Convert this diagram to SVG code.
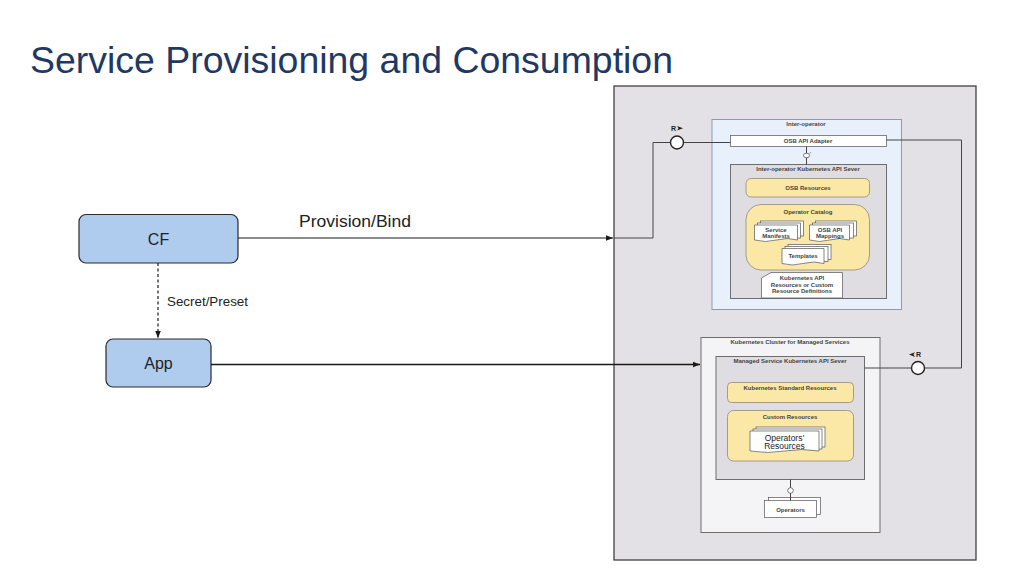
<svg xmlns="http://www.w3.org/2000/svg" width="1024" height="576" viewBox="0 0 1024 576">
<defs>
<style>
.t{font-family:"Liberation Sans",Arial,sans-serif;fill:#222;}
.s{font-size:6px;font-weight:bold;text-anchor:middle;fill:#444;}
.box{fill:#afcbee;stroke:#2b2b2b;stroke-width:1.2;}
.srv{fill:#dfdde1;stroke:#6d6d6d;stroke-width:1;}
.yel{fill:#fbe8a6;stroke:#8f8a7a;stroke-width:0.8;}
.doc{fill:#ffffff;stroke:#555;stroke-width:0.7;}
.ln{fill:none;stroke:#444;stroke-width:1;}
.cn{fill:none;stroke:#1a1a1a;stroke-width:1.2;}
</style>
<marker id="ah" viewBox="0 0 10 10" refX="10" refY="5" markerWidth="7" markerHeight="7" orient="auto" markerUnits="userSpaceOnUse">
<path d="M0,1 L10,5 L0,9 z" fill="#1a1a1a"/>
</marker>
</defs>
<rect width="1024" height="576" fill="#ffffff"/>
<text class="t" x="30" y="73" font-size="36" style="fill:#1f3864" textLength="643" lengthAdjust="spacingAndGlyphs">Service Provisioning and Consumption</text>

<g id="panel">
<rect x="614" y="86" width="362" height="474" fill="#e3e1e5" stroke="#333" stroke-width="1.2"/>
</g>

<g id="inter-operator">
<rect x="712" y="119.5" width="189.5" height="190" fill="#e8f1fb" stroke="#8c9bab" stroke-width="1"/>
<text class="t s" x="806" y="126">Inter-operator</text>
</g>
<g id="osb-adapter">
<rect x="730.5" y="135.5" width="156" height="11" fill="#fff" stroke="#666" stroke-width="0.8"/>
<text class="t s" x="808" y="143.2">OSB API Adapter</text>
</g>
<g id="inter-api-server">
<rect class="srv" x="730.5" y="164.5" width="156" height="134"/>
<text class="t s" x="808" y="170.8">Inter-operator Kubernetes API Sever</text>
</g>
<g id="osb-resources">
<rect class="yel" x="746" y="178.5" width="123.5" height="18.5" rx="5"/>
<text class="t s" x="808" y="189.8">OSB Resources</text>
</g>
<g id="operator-catalog">
<rect class="yel" x="746" y="204.5" width="123.5" height="65.5" rx="15"/>
<text class="t s" x="808" y="213.8">Operator Catalog</text>
</g>
<g id="service-manifests">
<rect class="doc" x="760.5" y="221" width="43" height="15"/>
<rect class="doc" x="757.5" y="223" width="43" height="15"/>
<path class="doc" d="M754.5,225 h43 v15 q-10,-3 -21,0 t-22,0 z"/>
<text class="t s" x="776" y="231.5">Service</text>
<text class="t s" x="776" y="237.5">Manifests</text>
</g>
<g id="osb-api-mappings">
<rect class="doc" x="815.5" y="221" width="41" height="15"/>
<rect class="doc" x="812.5" y="223" width="41" height="15"/>
<path class="doc" d="M809.5,225 h40 v15 q-10,-3 -20,0 t-20,0 z"/>
<text class="t s" x="830" y="231.5">OSB API</text>
<text class="t s" x="830" y="237.5">Mappings</text>
</g>
<g id="templates">
<rect class="doc" x="788" y="244.5" width="43" height="15"/>
<rect class="doc" x="785" y="246.5" width="43" height="15"/>
<path class="doc" d="M782,248.5 h42 v15 q-10,-3 -21,0 t-21,0 z"/>
<text class="t s" x="803" y="258">Templates</text>
</g>
<g id="k8s-api-resources">
<path class="doc" d="M771,272.5 H842.5 V298 H761.5 V278 z"/>
<text class="t s" x="802" y="280.2">Kubernetes API</text>
<text class="t s" x="802" y="286.7">Resources or Custom</text>
<text class="t s" x="802" y="293.2">Resource Definitions</text>
</g>

<g id="managed-cluster">
<rect x="701" y="337.5" width="179" height="195" fill="#f4f4f6" stroke="#6d6d6d" stroke-width="1"/>
<text class="t s" x="790" y="344.3">Kubernetes Cluster for Managed Services</text>
</g>
<g id="managed-api-server">
<rect class="srv" x="716" y="356.5" width="148.5" height="123"/>
<text class="t s" x="790" y="363.3">Managed Service Kubernetes API Sever</text>
</g>
<g id="k8s-standard-resources">
<rect class="yel" x="727.5" y="382.5" width="126" height="20" rx="4"/>
<text class="t s" x="790" y="390.3">Kubernetes Standard Resources</text>
</g>
<g id="custom-resources">
<rect class="yel" x="727.5" y="410.5" width="126" height="50.5" rx="6"/>
<text class="t s" x="790" y="419.3">Custom Resources</text>
</g>
<g id="operators-resources">
<rect class="doc" x="756" y="427" width="69" height="20"/>
<rect class="doc" x="753" y="429" width="69" height="20"/>
<path class="doc" d="M750,431 h69 v20 q-17,-3 -34,0 t-35,0 z"/>
<text class="t" x="784.5" y="440.5" font-size="8.5" text-anchor="middle" fill="#333">Operators’</text>
<text class="t" x="784.5" y="449" font-size="8.5" text-anchor="middle" fill="#333">Resources</text>
</g>
<g id="operators">
<rect class="doc" x="768.5" y="497.5" width="52" height="17"/>
<rect class="doc" x="764.5" y="500.5" width="52" height="17"/>
<text class="t s" x="790.5" y="511.5">Operators</text>
</g>

<g id="cf">
<rect class="box" x="79" y="214.5" width="159" height="48.5" rx="7"/>
<text class="t" x="158.5" y="245" font-size="16" text-anchor="middle">CF</text>
</g>
<g id="app">
<rect class="box" x="106" y="339" width="105" height="48" rx="7"/>
<text class="t" x="158.5" y="369" font-size="16" text-anchor="middle">App</text>
</g>

<g id="connectors">
<line class="cn" x1="238" y1="238" x2="613" y2="238" marker-end="url(#ah)"/>
<text class="t" x="299" y="227" font-size="16" textLength="112" lengthAdjust="spacingAndGlyphs">Provision/Bind</text>
<line class="cn" x1="158" y1="263" x2="158" y2="338" stroke-dasharray="3,2.5" marker-end="url(#ah)"/>
<text class="t" x="167" y="306" font-size="12.5" textLength="81" lengthAdjust="spacingAndGlyphs">Secret/Preset</text>
<line x1="211" y1="364.5" x2="700" y2="364.5" stroke="#1a1a1a" stroke-width="1.6" marker-end="url(#ah)"/>
<polyline class="ln" points="614,238 653,238 653,142.5 670.5,142.5"/>
<circle cx="677" cy="142.5" r="6.5" fill="#fff" stroke="#222" stroke-width="1.4"/>
<line class="ln" x1="683.5" y1="142.5" x2="730.5" y2="142.5"/>
<text class="t" x="671" y="131" font-size="7" font-weight="bold">R</text>
<path d="M677,126 L683,128.3 L677,130.6 L678.5,128.3 z" fill="#222"/>
<polyline class="ln" points="886.5,140 961.5,140 961.5,368 924.5,368"/>
<circle cx="918" cy="368" r="6.5" fill="#fff" stroke="#222" stroke-width="1.4"/>
<line class="ln" x1="864.5" y1="368" x2="911.5" y2="368"/>
<text class="t" x="916" y="357" font-size="7" font-weight="bold">R</text>
<path d="M915,352.3 L909,354.6 L915,356.9 L913.5,354.6 z" fill="#222"/>
<line class="ln" x1="806.5" y1="146.5" x2="806.5" y2="164.5"/>
<ellipse cx="806.5" cy="155.5" rx="3" ry="2.3" fill="#fff" stroke="#444" stroke-width="0.7"/>
<path d="M809.5,153.5 l1.6,-1.2" stroke="#444" stroke-width="0.6"/>
<line class="ln" x1="790.5" y1="479.5" x2="790.5" y2="500.5"/>
<circle cx="790.5" cy="490.5" r="2.8" fill="#fff" stroke="#444" stroke-width="0.7"/>
</g>
</svg>
